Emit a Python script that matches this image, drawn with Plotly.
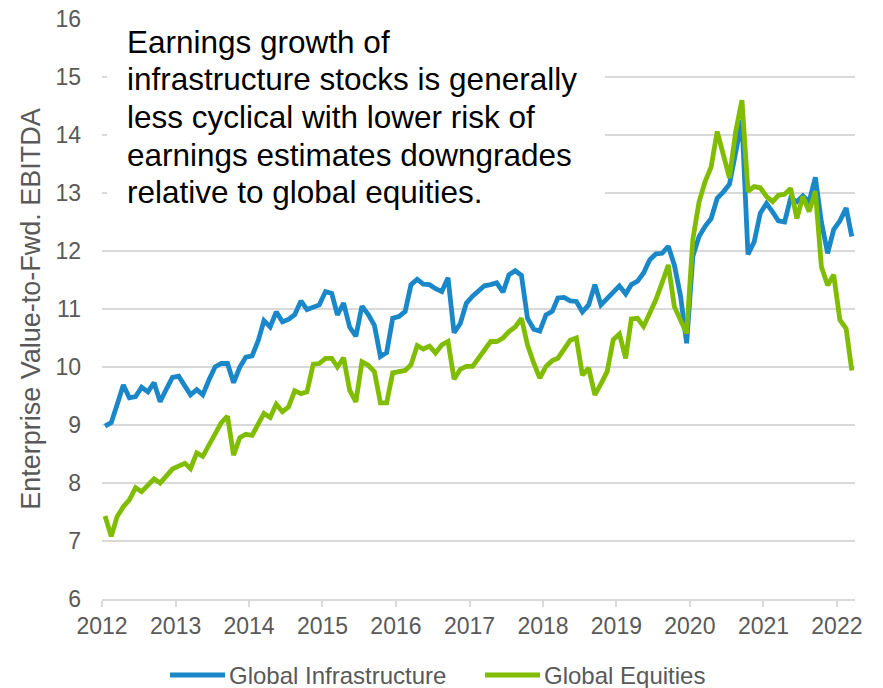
import pandas as pd
import plotly.graph_objects as go

# Monthly observations, Jan 2012 .. Mar 2022
start_month = "2012-01-01"
n_months = 123

global_infrastructure = [
    8.98, 9.04, 9.35, 9.69, 9.47, 9.49, 9.65, 9.57, 9.73, 9.40, 9.62, 9.82,
    9.84, 9.66, 9.52, 9.61, 9.52, 9.78, 10.00, 10.06, 10.06, 9.73, 10.00, 10.17,
    10.19, 10.46, 10.80, 10.69, 10.95, 10.78, 10.82, 10.90, 11.14, 10.99, 11.04, 11.07,
    11.30, 11.27, 10.90, 11.10, 10.69, 10.53, 11.05, 10.91, 10.72, 10.18, 10.25, 10.84,
    10.87, 10.96, 11.42, 11.51, 11.43, 11.42, 11.35, 11.30, 11.54, 10.59, 10.75, 11.10,
    11.22, 11.32, 11.40, 11.42, 11.45, 11.29, 11.59, 11.66, 11.58, 10.84, 10.65, 10.62,
    10.90, 10.96, 11.19, 11.20, 11.14, 11.13, 10.95, 11.07, 11.42, 11.07, 11.19, 11.31,
    11.40, 11.26, 11.42, 11.48, 11.62, 11.85, 11.95, 11.96, 12.08, 11.76, 11.22, 10.41,
    11.91, 12.25, 12.42, 12.56, 12.91, 13.02, 13.15, 13.70, 14.25, 11.94, 12.16, 12.65,
    12.82, 12.67, 12.52, 12.50, 12.91, 12.85, 12.95, 12.85, 13.27, 12.50, 11.96, 12.37,
    12.52, 12.74, 12.25,
]

global_equities = [
    7.43, 7.08, 7.42, 7.59, 7.71, 7.92, 7.85, 7.96, 8.07, 8.00, 8.12, 8.24,
    8.29, 8.34, 8.25, 8.52, 8.46, 8.65, 8.87, 9.04, 9.15, 8.48, 8.78, 8.84,
    8.82, 9.00, 9.20, 9.13, 9.36, 9.23, 9.31, 9.59, 9.54, 9.57, 10.05, 10.06,
    10.15, 10.15, 10.00, 10.16, 9.60, 9.40, 10.09, 10.03, 9.92, 9.38, 9.38, 9.90,
    9.91, 9.94, 10.04, 10.37, 10.31, 10.36, 10.24, 10.38, 10.44, 9.79, 9.96, 10.01,
    10.01, 10.15, 10.30, 10.44, 10.44, 10.50, 10.61, 10.69, 10.84, 10.38, 10.07, 9.81,
    10.01, 10.11, 10.15, 10.32, 10.46, 10.50, 9.86, 9.98, 9.52, 9.71, 9.92, 10.47,
    10.57, 10.15, 10.83, 10.84, 10.70, 10.93, 11.16, 11.45, 11.76, 11.04, 10.81, 10.58,
    12.20, 12.85, 13.19, 13.45, 14.06, 13.68, 13.26, 14.06, 14.60, 13.03, 13.11, 13.09,
    12.94, 12.85, 12.96, 12.98, 13.08, 12.56, 12.94, 12.68, 13.03, 11.73, 11.41, 11.59,
    10.81, 10.66, 9.94,
]

year_ticks = list(range(2012, 2023))
y_ticks = list(range(6, 17))

series_names = ["Global Infrastructure", "Global Equities"]
series_colors = ["#1a87c9", "#80bc00"]

note_lines = [
    "Earnings growth of",
    "infrastructure stocks is generally",
    "less cyclical with lower risk of",
    "earnings estimates downgrades",
    "relative to global equities.",
]

dates = pd.date_range(start_month, periods=n_months, freq="MS") + pd.Timedelta(days=15)

FONT = "Arial, 'Liberation Sans', sans-serif"
GREY = "#595959"
W, H = 883, 688
ML, MR, MT, MB = 102, 28, 19, 89
PW, PH = W - ML - MR, H - MT - MB


def px_to_paper(px, py):
    return (px - ML) / PW, (H - MB - py) / PH


fig = go.Figure()
for name, vals, col in zip(series_names, [global_infrastructure, global_equities], series_colors):
    fig.add_trace(go.Scatter(
        x=dates, y=vals, name=name, mode="lines",
        line=dict(color=col, width=4.8), showlegend=False,
    ))

fig.update_layout(
    width=W, height=H,
    margin=dict(l=ML, r=MR, t=MT, b=MB),
    paper_bgcolor="white", plot_bgcolor="white",
    font=dict(family=FONT, color=GREY, size=22),
    showlegend=False,
    xaxis=dict(
        type="date", automargin=False,
        range=[pd.Timestamp("2012-01-01"), pd.Timestamp("2022-04-01")],
        tickvals=[pd.Timestamp(f"{y}-01-01") for y in year_ticks],
        ticktext=[str(y) for y in year_ticks],
        showgrid=False, showline=True, linecolor="#d9d9d9", linewidth=1.5,
        ticks="outside", ticklen=6, tickcolor="#d9d9d9", tickwidth=1.5,
        tickfont=dict(size=23, color=GREY), zeroline=False,
    ),
    yaxis=dict(
        range=[6, 16], tickvals=y_ticks, automargin=False,
        showgrid=True, gridcolor="#d9d9d9", gridwidth=1.5,
        showline=False, zeroline=False, ticks="",
        tickfont=dict(size=23, color=GREY), ticklabelstandoff=20,
        title=dict(text="Enterprise Value-to-Fwd. EBITDA", font=dict(size=27, color=GREY), standoff=6),
    ),
)

# white panel behind the note (hides gridlines as in the original)
x0, y0 = px_to_paper(107, 212)
x1, y1 = px_to_paper(605, 15)
fig.add_shape(type="rect", xref="paper", yref="paper", x0=x0, x1=x1, y0=y0, y1=y1,
              fillcolor="white", line=dict(width=0), layer="above")

for k, line in enumerate(note_lines):
    ax, ay = px_to_paper(125, 42 + 37.5 * k)
    fig.add_annotation(
        xref="paper", yref="paper", x=ax, y=ay, xanchor="left", yanchor="middle",
        text=line, align="left", showarrow=False,
        font=dict(family=FONT, size=31.5, color="#000000"),
    )

# legend drawn below the axis
legend_starts = [170, 485]
legend_y = 675
for name, col, lx in zip(series_names, series_colors, legend_starts):
    lx0, ly = px_to_paper(lx, legend_y)
    lx1, _ = px_to_paper(lx + 55, legend_y)
    fig.add_shape(type="line", xref="paper", yref="paper", x0=lx0, x1=lx1, y0=ly, y1=ly,
                  line=dict(color=col, width=5))
    tx, _ = px_to_paper(lx + 57, legend_y)
    fig.add_annotation(xref="paper", yref="paper", x=tx, y=ly, xanchor="left", yanchor="middle",
                       text=name, showarrow=False, font=dict(family=FONT, size=24, color=GREY))

fig.write_html("out.html", config={"displayModeBar": False},
               post_script="document.body.style.margin='0';")
